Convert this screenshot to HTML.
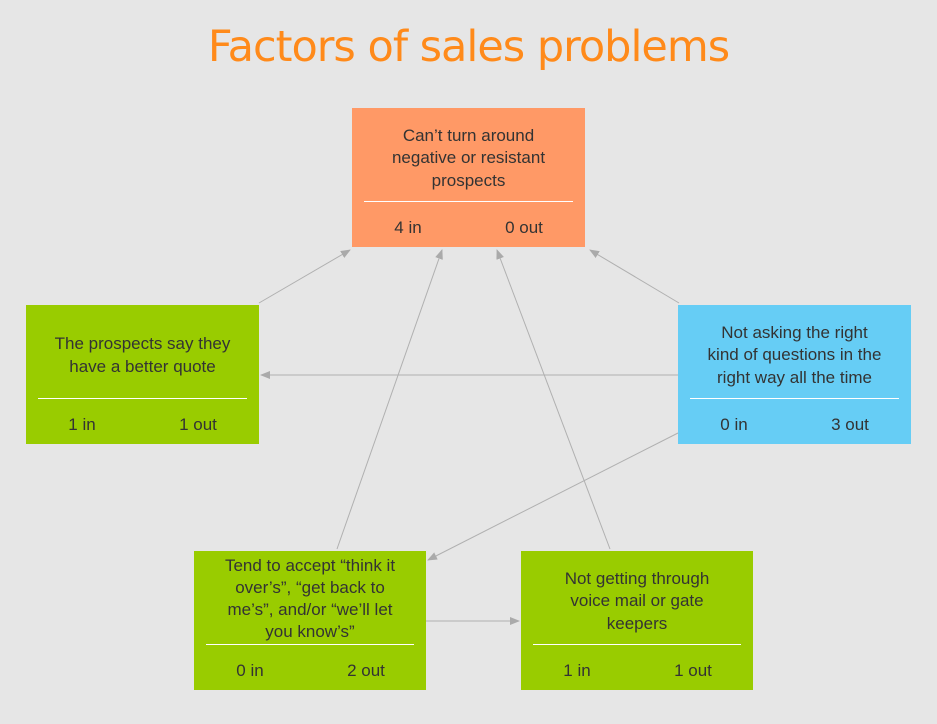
<!DOCTYPE html>
<html><head><meta charset="utf-8"><style>
body{margin:0;width:937px;height:724px;background:#e6e6e6;position:relative;overflow:hidden;font-family:"Liberation Sans",sans-serif;color:#333}
.t{position:absolute;left:0;width:937px;top:22px;text-align:center;font-size:43px;color:#ff8a1a;font-family:"DejaVu Sans","Liberation Sans",sans-serif;letter-spacing:-1px}
.b{position:absolute;width:233px;height:139px}
.tx{position:absolute;left:0;right:0;top:4px;height:93px;display:flex;align-items:center;justify-content:center;text-align:center;font-size:17px;line-height:22.5px;white-space:nowrap}
.hr{position:absolute;left:12px;right:12px;top:93px;height:1px;background:#fff}
.c{position:absolute;top:110px;font-size:17px;width:80px;text-align:center}
.i{left:16px}.o{left:132px}
svg{position:absolute;left:0;top:0}
</style></head><body>
<div class="t">Factors of sales problems</div>
<svg width="937" height="724"><defs><marker id="a" markerWidth="10" markerHeight="8" refX="9" refY="4" orient="auto" markerUnits="userSpaceOnUse"><path d="M0,0L10,4L0,8z" fill="#aaa"/></marker></defs>
<g stroke="#b0b0b0" stroke-width="1" fill="none" marker-end="url(#a)">
<line x1="259" y1="303" x2="350" y2="250"/>
<line x1="337" y1="549" x2="442" y2="250"/>
<line x1="610" y1="549" x2="497" y2="250"/>
<line x1="679" y1="303" x2="590" y2="250"/>
<line x1="678" y1="375" x2="261" y2="375"/>
<line x1="678" y1="433" x2="428" y2="560"/>
<line x1="426" y1="621" x2="519" y2="621"/>
</g></svg>
<div class="b" style="left:352px;top:108px;background:#ff9966"><div class="tx">Can’t turn around<br>negative or resistant<br>prospects</div><div class="hr"></div><div class="c i">4 in</div><div class="c o">0 out</div></div>
<div class="b" style="left:26px;top:305px;background:#99cc00"><div class="tx">The prospects say they<br>have a better quote</div><div class="hr"></div><div class="c i">1 in</div><div class="c o">1 out</div></div>
<div class="b" style="left:678px;top:305px;background:#66cdf5"><div class="tx">Not asking the right<br>kind of questions in the<br>right way all the time</div><div class="hr"></div><div class="c i">0 in</div><div class="c o">3 out</div></div>
<div class="b" style="left:194px;top:551px;width:232px;background:#99cc00"><div class="tx" style="top:1px;line-height:22px">Tend to accept “think it<br>over’s”, “get back to<br>me’s”, and/or “we’ll let<br>you know’s”</div><div class="hr"></div><div class="c i">0 in</div><div class="c o">2 out</div></div>
<div class="b" style="left:521px;top:551px;width:232px;background:#99cc00"><div class="tx">Not getting through<br>voice mail or gate<br>keepers</div><div class="hr"></div><div class="c i">1 in</div><div class="c o">1 out</div></div>
</body></html>
